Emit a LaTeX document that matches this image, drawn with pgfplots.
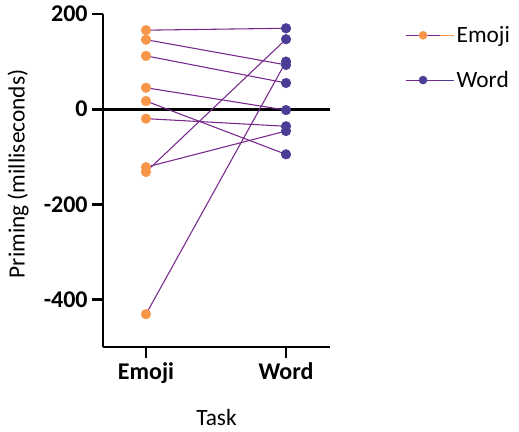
\documentclass[border=0pt]{standalone}
\usepackage{pgfplots}
\pgfplotsset{compat=1.18}
\usepackage{fontspec}
\setmainfont{Carlito}
\definecolor{emo}{RGB}{247,150,72}
\definecolor{wrd}{RGB}{75,60,150}
\definecolor{lnk}{RGB}{120,40,140}
\begin{document}
\begin{tikzpicture}
\useasboundingbox (-77.25pt,-63.75pt) rectangle (312pt,260.25pt);
\begin{axis}[
  at={(0pt,0pt)}, anchor=south west,
  scale only axis, width=170.25pt, height=249.75pt,
  xmin=-0.307, xmax=1.314, ymin=-500, ymax=200,
  axis lines=left,
  axis line style={line width=2.2pt, -},
  tick style={line width=2.2pt, black},
  tick align=outside,
  major tick length=8pt,
  xtick={0,1}, xticklabels={Emoji,Word},
  ytick={-400,-200,0,200}, yticklabels={-400,-200,0,200},
  ticklabel style={font=\fontsize{18}{21}\selectfont\bfseries},
  xlabel={Task}, ylabel={Priming (milliseconds)},
  label style={font=\fontsize{17.5}{20}\selectfont},
  xlabel style={at={(axis description cs:0.5,-0.212)}, anchor=center},
  ylabel style={at={(axis description cs:-0.374,0.52)}, anchor=center, rotate=0},
  clip=false,
  legend style={at={(axis description cs:1.33,0.972)}, anchor=north west, draw=none, fill=none, inner sep=0pt,
    row sep=16pt, font=\fontsize{17.5}{20}\selectfont},
  legend cell align=left,
]
\addplot[black, line width=2.2pt, forget plot] coordinates {(-0.307,0) (1.314,0)};
\addplot[lnk, line width=0.8pt, forget plot] coordinates {(0,166) (1,170)};
\addplot[lnk, line width=0.8pt, forget plot] coordinates {(0,146) (1,93)};
\addplot[lnk, line width=0.8pt, forget plot] coordinates {(0,112) (1,55)};
\addplot[lnk, line width=0.8pt, forget plot] coordinates {(0,45) (1,-2)};
\addplot[lnk, line width=0.8pt, forget plot] coordinates {(0,17) (1,-95)};
\addplot[lnk, line width=0.8pt, forget plot] coordinates {(0,-20) (1,-36)};
\addplot[lnk, line width=0.8pt, forget plot] coordinates {(0,-122) (1,-46)};
\addplot[lnk, line width=0.8pt, forget plot] coordinates {(0,-132) (1,147)};
\addplot[lnk, line width=0.8pt, forget plot] coordinates {(0,-431) (1,100)};
\addplot[only marks, mark=*, mark size=3.6pt, color=emo,
  legend image code/.code={\path (0pt,0pt) -- (36pt,0pt); \draw[lnk, line width=0.8pt] (0pt,0pt) -- (26pt,0pt); \fill[emo] (13pt,0pt) circle (3pt);}]
  coordinates {(0,166) (0,146) (0,112) (0,45) (0,17) (0,-20) (0,-122) (0,-132) (0,-431)};
\addlegendentry{Emoji}
\addplot[only marks, mark=*, mark size=3.6pt, color=wrd,
  legend image code/.code={\path (0pt,0pt) -- (36pt,0pt); \draw[lnk, line width=0.8pt] (0pt,0pt) -- (26pt,0pt); \fill[wrd] (13pt,0pt) circle (3pt);}]
  coordinates {(1,170) (1,147) (1,100) (1,93) (1,55) (1,-2) (1,-36) (1,-46) (1,-95)};
\addlegendentry{Word}
\end{axis}
\end{tikzpicture}
\end{document}
